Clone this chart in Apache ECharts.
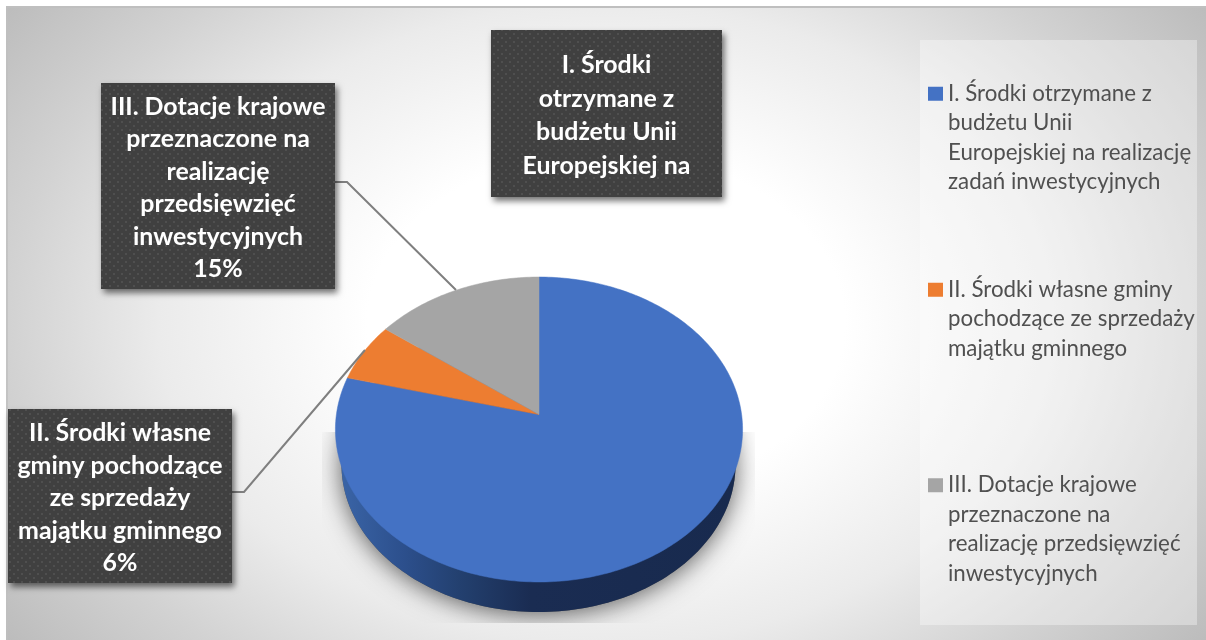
<!DOCTYPE html>
<html>
<head>
<meta charset="utf-8">
<style>html,body{margin:0;padding:0;background:#fff}#c{width:1206px;height:640px}</style>
<script src="https://cdn.jsdelivr.net/npm/echarts@6/dist/echarts.min.js"></script>
</head>
<body>
<div id="c"></div>
<script>
// ---- data ----
var categories = [
  'I. Środki otrzymane z budżetu Unii Europejskiej na realizację zadań inwestycyjnych',
  'II. Środki własne gminy pochodzące ze sprzedaży majątku gminnego',
  'III. Dotacje krajowe przeznaczone na realizację przedsięwzięć inwestycyjnych'
];
var values = [79.0, 6.2, 14.8];
var colors = ['#4472c4', '#ed7d31', '#a5a5a5'];
var legendLines = [
  'I. Środki otrzymane z\nbudżetu Unii\nEuropejskiej na realizację\nzadań inwestycyjnych',
  'II. Środki własne gminy\npochodzące ze sprzedaży\nmajątku gminnego',
  'III. Dotacje krajowe\nprzeznaczone na\nrealizację przedsięwzięć\ninwestycyjnych'
];
var labelLines = [
  'I. Środki\notrzymane z\nbudżetu Unii\nEuropejskiej na',
  'II. Środki własne\ngminy pochodzące\nze sprzedaży\nmajątku gminnego',
  'III. Dotacje krajowe\nprzeznaczone na\nrealizację\nprzedsięwzięć\ninwestycyjnych'
];
var labelShowsPercent = [false, true, true];

// ---- layout ----
var PIE = {cx: 539, cy: 414.5, R: 202.6, S: 151, p: 0.0984};
var WALL = {cx: 538.5, cy: 464.5, rx: 197, ry: 147.5};
var SHADOW_CLIP = {x: 322, y: 432, width: 433, height: 191};
var BOXES = [
  {x: 491, y: 30, width: 231, height: 167, lineHeight: 33.5},
  {x: 8, y: 409, width: 224, height: 174, lineHeight: 32.5},
  {x: 101, y: 83, width: 234, height: 206, lineHeight: 32.5}
];
var LABEL_DY = 2;
var LEADERS = [
  null,
  [[232, 492], [244, 492], [365, 350]],
  [[335, 182], [347, 182], [456, 290]]
];
var LEGEND_POS = [
  {left: 928, top: 79, lines: 4},
  {left: 928, top: 275, lines: 3},
  {left: 928, top: 470.5, lines: 4}
];
var LEGEND_LH = 29.5;

var tile = document.createElement('canvas');
tile.width = 8; tile.height = 8;
(function () {
  var g = tile.getContext('2d');
  g.fillStyle = '#404040'; g.fillRect(0, 0, 8, 8);
  g.fillStyle = '#4f4f4f';
  g.fillRect(1, 1, 2, 2); g.fillRect(5, 5, 2, 2);
})();

var total = values.reduce(function (a, b) { return a + b; }, 0);

function project(turn) { // fraction of the full circle, clockwise from the top
  var a = turn * Math.PI * 2, u = Math.sin(a), v = -Math.cos(a);
  var d = 1 - PIE.p * v;
  return [PIE.cx + PIE.R * u / d, PIE.cy + PIE.S * v / d];
}
function ellipse(e) {
  var pts = [];
  for (var i = 0; i < 240; i++) {
    var a = i / 240 * Math.PI * 2;
    pts.push([e.cx + e.rx * Math.cos(a), e.cy + e.ry * Math.sin(a)]);
  }
  return pts;
}

function makeRender(idx) {
  return function (params, api) {
    var value = api.value(0), before = 0;
    for (var k = 0; k < idx; k++) before += values[k];
    var from = before / total, to = (before + value) / total;
    var pts = [[PIE.cx, PIE.cy]], steps = Math.max(8, Math.round((to - from) * 360));
    for (var s = 0; s <= steps; s++) pts.push(project(from + (to - from) * s / steps));

    var children = [];
    if (idx === 0) {
      var bottom = ellipse(WALL);
      children.push({
        type: 'polygon', shape: {points: bottom},
        style: {fill: '#555', shadowColor: 'rgba(0,0,0,0.65)', shadowBlur: 26, shadowOffsetY: 2},
        clipPath: {type: 'rect', shape: SHADOW_CLIP}
      });
      children.push({
        type: 'polygon', shape: {points: bottom},
        style: {fill: new echarts.graphic.LinearGradient(0, 0, 1, 0, [
          {offset: 0, color: '#3a64a6'},
          {offset: 0.16, color: '#2c4f8c'},
          {offset: 0.3, color: '#23406f'},
          {offset: 0.48, color: '#1a2c52'},
          {offset: 1, color: '#182a4e'}
        ])}
      });
    }
    children.push({
      type: 'polygon', shape: {points: pts},
      style: {fill: colors[idx], stroke: colors[idx], lineWidth: 0.5}
    });
    if (LEADERS[idx]) {
      children.push({
        type: 'polyline', shape: {points: LEADERS[idx]},
        style: {fill: null, stroke: '#7f7f7f', lineWidth: 2}
      });
    }
    var b = BOXES[idx];
    children.push({
      type: 'rect', shape: {x: b.x, y: b.y, width: b.width, height: b.height},
      style: {
        fill: {image: tile, repeat: 'repeat'},
        shadowColor: 'rgba(0,0,0,0.55)', shadowBlur: 6, shadowOffsetX: 2.5, shadowOffsetY: 4
      }
    });
    var txt = labelLines[idx];
    if (labelShowsPercent[idx]) txt += '\n' + Math.round(value / total * 100) + '%';
    children.push({
      type: 'text',
      style: {
        x: b.x + b.width / 2, y: b.y + b.height / 2 + LABEL_DY, text: txt,
        fill: '#ffffff', align: 'center', verticalAlign: 'middle',
        font: 'bold 24.9px Lato', lineHeight: b.lineHeight
      }
    });
    return {type: 'group', children: children};
  };
}

var series = categories.map(function (name, i) {
  return {
    type: 'custom', name: name, coordinateSystem: 'none', silent: true, animation: false,
    clip: false, z: 2 + i,
    itemStyle: {color: colors[i]},
    data: [{value: values[i], name: name}],
    renderItem: makeRender(i)
  };
});

var legends = categories.map(function (name, i) {
  var pos = LEGEND_POS[i], h = pos.lines * LEGEND_LH;
  return {
    left: pos.left, top: pos.top, padding: 0, orient: 'vertical',
    data: [name], selectedMode: false, itemWidth: 15, itemHeight: h, itemGap: 0,
    symbolKeepAspect: false,
    icon: 'path://M0 0L0.01 0Z M0 ' + (LEGEND_LH / 2 - 7) + 'H14V' + (LEGEND_LH / 2 + 7) + 'H0Z M0 ' + h + 'L0.01 ' + h + 'Z',
    formatter: function () { return legendLines[i]; },
    textStyle: {fontFamily: 'Lato', fontSize: 22.3, color: '#505050', lineHeight: LEGEND_LH}
  };
});

var chart = echarts.init(document.getElementById('c'), null, {renderer: 'canvas', width: 1206, height: 640});
var BG_SCALE = 1.4;
chart.setOption({
  animation: false,
  backgroundColor: '#ffffff',
  tooltip: {show: false},
  graphic: [
    {
      type: 'rect', x: 6, y: 6, scaleX: BG_SCALE, z: -10, silent: true,
      shape: {x: 0, y: 0, width: 1200 / BG_SCALE, height: 634},
      style: {fill: new echarts.graphic.RadialGradient(0.5, 0.5, 0.84, [
        {offset: 0, color: '#ffffff'},
        {offset: 0.32, color: '#ffffff'},
        {offset: 0.6, color: '#ebebeb'},
        {offset: 0.8, color: '#d2d2d2'},
        {offset: 1, color: '#bcbcbc'}
      ])}
    },
    {type: 'line', z: -9, silent: true, shape: {x1: 6, y1: 7, x2: 1206, y2: 7}, style: {stroke: '#bfbfbf', lineWidth: 2}},
    {type: 'line', z: -9, silent: true, shape: {x1: 7, y1: 6, x2: 7, y2: 640}, style: {stroke: '#bfbfbf', lineWidth: 1.5}},
    {
      type: 'rect', z: -8, silent: true,
      shape: {x: 920, y: 40, width: 277, height: 585},
      style: {fill: 'rgba(255,255,255,0.35)'}
    }
  ],
  legend: legends,
  series: series
});
</script>
</body>
</html>
